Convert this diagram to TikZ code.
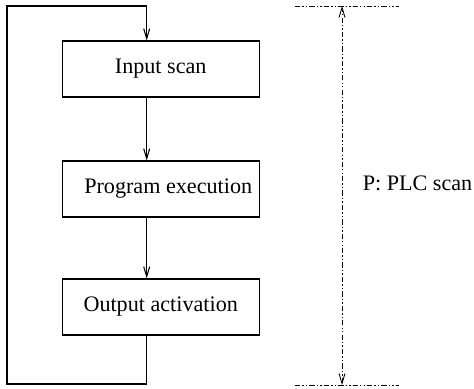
\documentclass[tikz,border=0pt]{standalone}
\usepackage{fontspec}
\setmainfont{Liberation Serif}
\usetikzlibrary{calc}
\usetikzlibrary{arrows.meta}

\tikzset{
  stage/.style={draw,line width=0.6pt,minimum width=3.94cm,minimum height=1.12cm,inner sep=0pt},
  flow/.style={line width=0.6pt,-{Straight Barb[length=2mm,width=1.2mm]}},
  dashdot/.style={line width=0.5pt,dash pattern=on 3pt off 1.2pt on 0.8pt off 1.2pt on 0.8pt off 1.2pt}
}

\begin{document}
\begin{tikzpicture}[font=\fontsize{12.6}{15}\selectfont]

\useasboundingbox (0,0) rectangle (9.48,7.76);

\node[stage] (input) at (3.214,6.38) {Input scan};
\node[stage] (exec) at (3.214,3.98) {\hspace{0.3cm}Program execution};
\node[stage] (output) at (3.214,1.62) {Output activation};

\coordinate (A) at (2.934,0.08);
\coordinate (B) at (0.14,0.08);
\coordinate (C) at (0.14,7.64);
\coordinate (D) at (2.934,7.64);

\draw[flow] (input.south -| A) -- (exec.north -| A);
\draw[flow] (exec.south -| A) -- (output.north -| A);
\draw[flow] (output.south -| A) -- (A) -- (B) -- (C) -- (D) -- (input.north -| D);

\coordinate (T1) at (5.9,7.64);
\coordinate (T2) at (7.98,7.64);
\coordinate (B1) at (5.9,0.06);
\coordinate (B2) at (7.98,0.06);
\coordinate (M1) at (6.84,7.64);
\coordinate (M2) at (6.84,0.06);

\draw[dashdot] (T1) -- (T2);
\draw[dashdot] (B1) -- (B2);
\draw[dashdot,{Straight Barb[length=2mm,width=1.2mm]}-{Straight Barb[length=2mm,width=1.2mm]}] (M2) -- (M1);
\node (scan) at (8.35,4.1) {P: PLC scan};

\end{tikzpicture}
\end{document}
